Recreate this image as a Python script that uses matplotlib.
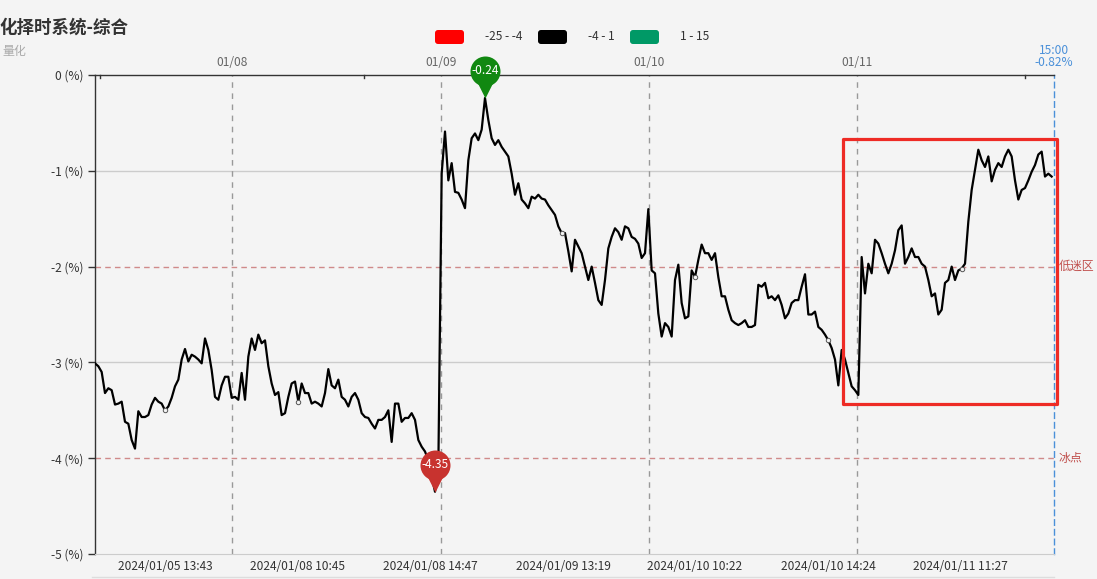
import numpy as np
import matplotlib
matplotlib.use('Agg')
import matplotlib.pyplot as plt
from matplotlib.patches import FancyBboxPatch, Rectangle
from matplotlib.transforms import offset_copy, blended_transform_factory

plt.rcParams['font.family'] = ['Noto Sans CJK SC', 'DejaVu Sans']

# ---------------- data ----------------
title = '化择时系统-综合'
subtitle = '量化'

day_0105 = [-3.01, -3.04, -3.10, -3.32, -3.27, -3.29, -3.44, -3.43, -3.41, -3.62,
            -3.64, -3.81, -3.90, -3.51, -3.57, -3.57, -3.55, -3.44, -3.37, -3.41,
            -3.43, -3.50, -3.46, -3.37, -3.25, -3.18, -2.97, -2.86, -2.99, -2.92,
            -2.94, -2.97, -3.01, -2.75, -2.87, -3.08, -3.36, -3.39, -3.24, -3.15,
            -3.15, -3.37]
day_0108 = [-3.36, -3.39, -3.11, -3.39, -2.94, -2.75, -2.87, -2.71, -2.80, -2.77,
            -3.04, -3.22, -3.34, -3.31, -3.55, -3.53, -3.36, -3.22, -3.20, -3.41,
            -3.22, -3.32, -3.32, -3.43, -3.41, -3.43, -3.46, -3.32, -3.07, -3.24,
            -3.27, -3.18, -3.36, -3.39, -3.46, -3.36, -3.32, -3.39, -3.53, -3.57,
            -3.58, -3.64, -3.69, -3.60, -3.60, -3.57, -3.50, -3.83, -3.43, -3.43,
            -3.62, -3.58, -3.58, -3.53, -3.60, -3.81, -3.88, -3.93, -4.02, -4.19,
            -4.35, -4.10]
day_0109 = [-1.03, -0.59, -1.10, -0.92, -1.22, -1.23, -1.30, -1.39, -0.89, -0.66,
            -0.61, -0.68, -0.57, -0.24, -0.47, -0.66, -0.73, -0.68, -0.75, -0.80,
            -0.85, -1.03, -1.25, -1.13, -1.30, -1.34, -1.39, -1.27, -1.29, -1.25,
            -1.29, -1.30, -1.36, -1.41, -1.46, -1.58, -1.65, -1.65, -1.84, -2.05,
            -1.72, -1.79, -1.86, -2.00, -2.14, -2.00, -2.17, -2.35, -2.40, -2.14,
            -1.81, -1.69, -1.60, -1.64, -1.72, -1.58, -1.60, -1.69, -1.71, -1.76,
            -1.91, -1.86]
day_0110 = [-1.40, -2.04, -2.07, -2.49, -2.73, -2.59, -2.63, -2.73, -2.14, -1.98,
            -2.38, -2.54, -2.52, -2.04, -2.11, -1.93, -1.77, -1.86, -1.86, -1.93,
            -1.86, -2.11, -2.31, -2.31, -2.45, -2.56, -2.59, -2.61, -2.59, -2.56,
            -2.63, -2.63, -2.61, -2.19, -2.21, -2.17, -2.33, -2.31, -2.35, -2.30,
            -2.40, -2.54, -2.49, -2.38, -2.35, -2.35, -2.21, -2.08, -2.50, -2.50,
            -2.47, -2.63, -2.66, -2.71, -2.77, -2.85, -2.97, -3.24, -2.87, -2.97,
            -3.11, -3.25, -3.29, -3.34]
day_0111 = [-1.90, -2.28, -1.97, -2.07, -1.72, -1.76, -1.86, -1.97, -2.07, -1.97,
            -1.83, -1.62, -1.57, -1.97, -1.90, -1.81, -1.90, -1.90, -1.97, -2.00,
            -2.14, -2.31, -2.28, -2.50, -2.45, -2.17, -2.14, -2.00, -2.14, -2.04,
            -2.02, -1.97, -1.53, -1.20, -0.99, -0.78, -0.89, -0.96, -0.85, -1.11,
            -0.99, -0.92, -0.96, -0.85, -0.78, -0.85, -1.10, -1.30, -1.20, -1.18,
            -1.10, -1.01, -0.94, -0.83, -0.80, -1.06, -1.03, -1.06]

day_labels = ['01/08', '01/09', '01/10', '01/11']
bottom_labels = ['2024/01/05 13:43', '2024/01/08 10:45', '2024/01/08 14:47',
                 '2024/01/09 13:19', '2024/01/10 10:22', '2024/01/10 14:24',
                 '2024/01/11 11:27']
y_ticks = [0, -1, -2, -3, -4, -5]
ref_levels = [-2, -4]
ref_labels = ['低迷区', '冰点']
legend_labels = ['-25 - -4', '-4 - 1', '1 - 15']
legend_colors = ['#ff0000', '#000000', '#009966']
end_time = '15:00'
end_value = '-0.82%'

# ---------------- layout / style ----------------
values = np.array(day_0105 + day_0108 + day_0109 + day_0110 + day_0111)
x = np.arange(len(values))
day_bounds = [41.1, 103.8, 166.2, 228.6]
bottom_pos = [21, 60.6, 100.5, 140.4, 180, 219.9, 259.5]
BG = '#f4f4f4'
W, H = 1097, 579
PX = 72 / 100.0  # points per pixel

fig = plt.figure(figsize=(W / 100, H / 100), dpi=100, facecolor=BG)
L, R, T, B = 94.5, 1054, 75, 554
ax = fig.add_axes([L / W, 1 - B / H, (R - L) / W, (B - T) / H])
ax.set_facecolor(BG)
ax.set_xlim(-0.15, 287.7)
ax.set_ylim(-5, 0)

for s in ['left', 'top']:
    ax.spines[s].set_color('#333333')
    ax.spines[s].set_linewidth(1)
ax.spines['bottom'].set_color('#cccccc')
ax.spines['right'].set_color('#4a90d9')
ax.spines['right'].set_linestyle((0, (4, 3)))
ax.spines['right'].set_linewidth(1)

ax.set_yticks(y_ticks)
ax.set_yticklabels([f'{t} (%)' for t in y_ticks])
ax.tick_params(axis='y', length=5, width=1, color='#333333', labelcolor='#333333',
               labelsize=8.6, pad=3)
ax.set_xticks([])

for lv in [-1, -3]:
    ax.axhline(lv, color='#cccccc', lw=1, zorder=1)
for lv, lab in zip(ref_levels, ref_labels):
    ax.axhline(lv, color='#d08a8a', lw=1, ls=(0, (4, 3)), zorder=1)
    ax.text(1.005, lv, lab, transform=blended_transform_factory(ax.transAxes, ax.transData),
            ha='left', va='center', color='#c0504d', fontsize=8.6, clip_on=False)

for b, lab in zip(day_bounds, day_labels):
    ax.axvline(b, color='#999999', lw=1, ls=(0, (4, 4)), zorder=1)
    ax.text(b, 1.027, lab, transform=blended_transform_factory(ax.transData, ax.transAxes),
            ha='center', va='center', color='#666666', fontsize=8.6)

for p, lab in zip(bottom_pos, bottom_labels):
    ax.text(p, -0.027, lab, transform=blended_transform_factory(ax.transData, ax.transAxes),
            ha='center', va='center', color='#333333', fontsize=8.6)

# small top ticks
for tp in [1.5, 80.8, 279]:
    ax.plot([tp, tp], [0, -0.035], color='#333333', lw=1, clip_on=False)

ax.plot(x, values, color='#000000', lw=1.6, zorder=3, solid_joinstyle='round')
mk = [int(round(p)) for p in bottom_pos]
ax.plot(x[mk], values[mk], 'o', ms=3.2, mfc=BG, mec='#555555', mew=0.7, zorder=4)

# highlight box
ax.add_patch(Rectangle((224.5, -3.437), 288.45 - 224.5, 3.437 - 0.671, fill=False,
                       ec='#ee2b25', lw=2.3, zorder=6, clip_on=False, joinstyle='round'))


def pin(k, v, color):
    tri = offset_copy(ax.transData, fig=fig, x=0, y=10 * PX, units='points')
    circ = offset_copy(ax.transData, fig=fig, x=0, y=27 * PX, units='points')
    ax.plot([k], [v], marker='v', ms=20 * PX, color=color, mec='none',
            transform=tri, clip_on=False, zorder=7)
    ax.plot([k], [v], marker='o', ms=30 * PX, color=color, mec='none',
            transform=circ, clip_on=False, zorder=7)
    ax.text(k, v, f'{v:.2f}', transform=circ, ha='center', va='center',
            color='white', fontsize=8.6, zorder=8, clip_on=False)


kmin = int(np.argmin(values))
kmax = int(np.argmax(values))
pin(kmin, values[kmin], '#c8332f')
pin(kmax, values[kmax], '#118811')

# ---------------- overlay (pixel coordinates) ----------------
ov = fig.add_axes([0, 0, 1, 1], facecolor='none')
ov.set_xlim(0, W)
ov.set_ylim(H, 0)
ov.axis('off')

ov.text(0, 28, title, ha='left', va='center', fontsize=12.6, fontweight='bold', color='#333333')
ov.text(2, 51, subtitle, ha='left', va='center', fontsize=8.6, color='#aaaaaa')

box_x = [435, 538, 630]
for bx, lab, c in zip(box_x, legend_labels, legend_colors):
    ov.add_patch(FancyBboxPatch((bx, 30), 29, 14, boxstyle='round,pad=0,rounding_size=3',
                                fc=c, ec='none'))
    ov.text(bx + 50, 37, lab, ha='left', va='center', fontsize=8.6, color='#333333')

ov.text(R, 50, end_time, ha='center', va='center', fontsize=8.6, color='#4a90d9')
ov.text(R, 62, end_value, ha='center', va='center', fontsize=8.6, color='#4a90d9')
ov.plot([92, R], [577, 577], color='#dddddd', lw=1)

fig.savefig('out.png', dpi=100, facecolor=BG)
